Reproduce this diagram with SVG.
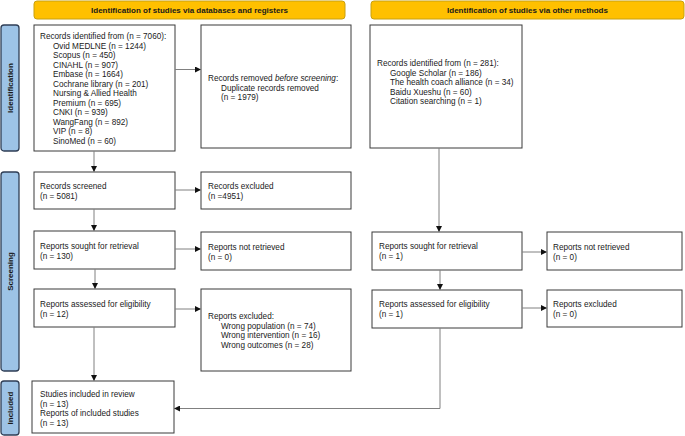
<svg xmlns="http://www.w3.org/2000/svg" width="685" height="436" viewBox="0 0 685 436">
<style>
text{font-family:"Liberation Sans",Arial,sans-serif;font-size:8.2px;fill:#1a1a1a}
.hdr{fill:#FFC000;stroke:#C8A010;stroke-width:1}
.hdt{font-weight:bold;font-size:8px;text-anchor:middle}
.side{fill:#9DC3E6;stroke:#2F3E55;stroke-width:1.3}
.sdt{font-weight:bold;font-size:8px;text-anchor:middle}
.box{fill:#fff;stroke:#3a3a3a;stroke-width:1}
.con{fill:none;stroke:#808080;stroke-width:1}
</style>
<defs>
<marker id="ah" markerWidth="6" markerHeight="6" refX="5" refY="3" orient="auto" markerUnits="userSpaceOnUse">
<path d="M0,0 L6,3 L0,6 Z" fill="#111"/>
</marker>
</defs>
<rect width="685" height="436" fill="#fff"/>
<g id="header-left"><rect class="hdr" x="34" y="1" width="311" height="18" rx="3"/><text class="hdt" x="189.5" y="13">Identification of studies via databases and registers</text></g>
<g id="header-right"><rect class="hdr" x="371" y="1" width="313" height="18" rx="3"/><text class="hdt" x="527.5" y="13">Identification of studies via other methods</text></g>
<g id="side-identification"><rect class="side" x="1" y="25" width="18" height="126" rx="3"/><text class="sdt" transform="translate(13,88) rotate(-90)">Identification</text></g>
<g id="side-screening"><rect class="side" x="1" y="172" width="18" height="199" rx="3"/><text class="sdt" transform="translate(13,271.5) rotate(-90)">Screening</text></g>
<g id="side-included"><rect class="side" x="1" y="381" width="18" height="54" rx="3"/><text class="sdt" transform="translate(13,408) rotate(-90)">Included</text></g>

<g id="records-identified"><rect class="box" x="34" y="25" width="141" height="126"/>
<text x="40" y="39">Records identified from (n = 7060):</text>
<text x="53" y="48.5">Ovid MEDLNE (n = 1244)</text>
<text x="53" y="58">Scopus (n = 450)</text>
<text x="53" y="67.5">CINAHL (n = 907)</text>
<text x="53" y="77">Embase (n = 1664)</text>
<text x="53" y="86.5">Cochrane library (n = 201)</text>
<text x="53" y="96">Nursing &amp; Allied Health</text>
<text x="53" y="105.5">Premium (n = 695)</text>
<text x="53" y="115">CNKI (n = 939)</text>
<text x="53" y="124.5">WangFang (n = 892)</text>
<text x="53" y="134">VIP (n = 8)</text>
<text x="53" y="143.5">SinoMed (n = 60)</text>
</g>
<g id="records-removed"><rect class="box" x="201" y="25" width="150" height="123"/>
<text x="208" y="81">Records removed <tspan font-style="italic">before screening</tspan>:</text>
<text x="221" y="90.5">Duplicate records removed</text>
<text x="221" y="100">(n = 1979)</text>
</g>
<g id="other-identified"><rect class="box" x="370" y="25" width="152" height="123"/>
<text x="377" y="66">Records identified from (n = 281):</text>
<text x="390" y="75.5">Google Scholar (n = 186)</text>
<text x="390" y="85">The health coach alliance (n = 34)</text>
<text x="390" y="94.5">Baidu Xueshu (n = 60)</text>
<text x="390" y="104">Citation searching (n = 1)</text>
</g>
<g id="records-screened"><rect class="box" x="34" y="172" width="141" height="37"/>
<text x="40" y="189">Records screened</text><text x="40" y="198.5">(n = 5081)</text></g>
<g id="records-excluded"><rect class="box" x="201" y="172" width="150" height="37"/>
<text x="208" y="189">Records excluded</text><text x="208" y="198.5">(n =4951)</text></g>
<g id="reports-sought"><rect class="box" x="34" y="231" width="141" height="38"/>
<text x="40" y="249">Reports sought for retrieval</text><text x="40" y="258.5">(n = 130)</text></g>
<g id="reports-not-retrieved"><rect class="box" x="201" y="232" width="150" height="38"/>
<text x="208" y="250">Reports not retrieved</text><text x="208" y="259.5">(n = 0)</text></g>
<g id="reports-assessed"><rect class="box" x="34" y="289" width="141" height="38"/>
<text x="40" y="307">Reports assessed for eligibility</text><text x="40" y="316.5">(n = 12)</text></g>
<g id="reports-excluded"><rect class="box" x="201" y="289" width="150" height="82"/>
<text x="208" y="319">Reports excluded:</text>
<text x="221" y="328.5">Wrong population (n = 74)</text>
<text x="221" y="338">Wrong intervention (n = 16)</text>
<text x="221" y="347.5">Wrong outcomes (n = 28)</text>
</g>
<g id="other-sought"><rect class="box" x="372" y="232" width="150" height="38"/>
<text x="379" y="249">Reports sought for retrieval</text><text x="379" y="258.5">(n = 1)</text></g>
<g id="other-not-retrieved"><rect class="box" x="547" y="232" width="135" height="38"/>
<text x="553" y="250">Reports not retrieved</text><text x="553" y="259.5">(n = 0)</text></g>
<g id="other-assessed"><rect class="box" x="372" y="290" width="150" height="38"/>
<text x="379" y="307">Reports assessed for eligibility</text><text x="379" y="316.5">(n = 1)</text></g>
<g id="other-excluded"><rect class="box" x="547" y="290" width="135" height="37"/>
<text x="553" y="307">Reports excluded</text><text x="553" y="316.5">(n = 0)</text></g>
<g id="included"><rect class="box" x="32" y="381" width="142" height="52"/>
<text x="40" y="397">Studies included in review</text>
<text x="40" y="406.5">(n = 13)</text>
<text x="40" y="416">Reports of included studies</text>
<text x="40" y="425.5">(n = 13)</text>
</g>

<g id="connectors">
<path class="con" d="M175,69.5 H200" marker-end="url(#ah)"/>
<path class="con" d="M94,151 V171" marker-end="url(#ah)"/>
<path class="con" d="M175,190 H200" marker-end="url(#ah)"/>
<path class="con" d="M94,209 V230" marker-end="url(#ah)"/>
<path class="con" d="M175,249 H200" marker-end="url(#ah)"/>
<path class="con" d="M95,269 V288" marker-end="url(#ah)"/>
<path class="con" d="M175,309 H200" marker-end="url(#ah)"/>
<path class="con" d="M94,327 V380" marker-end="url(#ah)"/>
<path class="con" d="M439,148 V231" marker-end="url(#ah)"/>
<path class="con" d="M522,252 H546" marker-end="url(#ah)"/>
<path class="con" d="M440,270 V289" marker-end="url(#ah)"/>
<path class="con" d="M522,308 H546" marker-end="url(#ah)"/>
<path class="con" d="M440,328 V408.5 H175" marker-end="url(#ah)"/>
</g>
</svg>
